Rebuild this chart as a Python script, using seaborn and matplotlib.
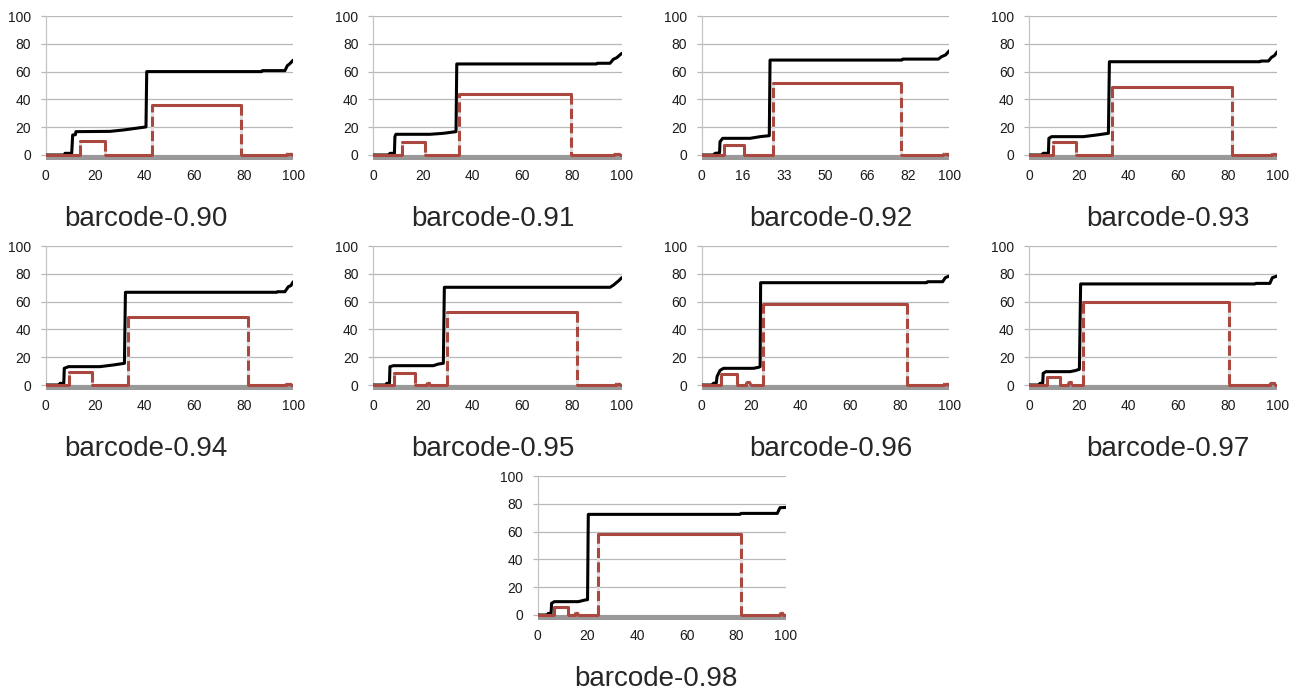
import numpy as np
import pandas as pd
import matplotlib
matplotlib.use("Agg")
import matplotlib.pyplot as plt
import seaborn as sns

# ---------------- data ----------------
titles = ["barcode-0.90", "barcode-0.91", "barcode-0.92", "barcode-0.93",
          "barcode-0.94", "barcode-0.95", "barcode-0.96", "barcode-0.97",
          "barcode-0.98"]

yticks = [0, 20, 40, 60, 80, 100]
xtick_labels_default = ["0", "20", "40", "60", "80", "100"]
xtick_labels_092 = ["0", "16", "33", "50", "66", "82", "100"]

black_x_090 = [0, 7.5, 7.8, 10.5, 10.9, 12.0, 12.2, 26.0, 31.4, 40.5, 40.8, 87.2, 87.5, 96.6, 97.6, 98.5, 100]
black_y_090 = [0, 0, 1.2, 1.2, 14.4, 14.6, 16.8, 17.0, 18.0, 20.2, 60.0, 60.0, 60.7, 60.7, 64.3, 65.5, 68.3]
red_x_090 = [0, 13.9, 13.9, 24.0, 24.0, 43.0, 43.0, 78.7, 78.7, 97.3, 97.8, 99.0, 99.5, 100]
red_y_090 = [0, 0, 10.3, 10.3, 0, 0, 35.7, 35.7, 0, 0, 1.0, 1.0, 0, 0]

black_x_091 = [0, 6.5, 6.7, 8.5, 8.7, 9.1, 22.8, 28.2, 33.3, 33.6, 89.9, 90.2, 95.3, 96.6, 98.0, 100]
black_y_091 = [0, 0, 1.2, 1.2, 13.2, 14.9, 14.9, 15.6, 16.8, 65.5, 65.5, 66.0, 66.0, 68.8, 70.0, 73.1]
red_x_091 = [0, 11.4, 11.4, 20.8, 20.8, 34.6, 34.6, 79.7, 79.7, 97.0, 97.5, 98.8, 99.3, 100]
red_y_091 = [0, 0, 9.6, 9.6, 0, 0, 43.6, 43.6, 0, 0, 0.8, 0.8, 0, 0]

black_x_092 = [0, 5.2, 5.4, 7.2, 7.4, 8.5, 19.5, 23.6, 27.3, 27.6, 80.8, 81.2, 95.6, 96.8, 98.5, 100]
black_y_092 = [0, 0, 1.2, 1.5, 9.6, 12.0, 12.0, 13.2, 13.9, 68.3, 68.3, 69.0, 69.0, 70.7, 72.0, 75.0]
red_x_092 = [0, 9.2, 9.2, 17.2, 17.2, 28.9, 28.9, 80.3, 80.3, 97.6, 98.1, 99.2, 99.6, 100]
red_y_092 = [0, 0, 7.2, 7.2, 0, 0, 52.0, 52.0, 0, 0, 1.0, 1.0, 0, 0]

black_x_093 = [0, 5.4, 5.6, 7.7, 7.9, 9.0, 21.8, 27.2, 31.9, 32.3, 93.0, 93.3, 96.4, 97.7, 98.8, 100]
black_y_093 = [0, 0, 1.2, 1.2, 12.0, 13.2, 13.2, 14.4, 15.6, 67.1, 67.1, 67.6, 67.6, 70.3, 71.5, 74.3]
red_x_093 = [0, 9.7, 9.7, 18.8, 18.8, 33.2, 33.2, 81.6, 81.6, 97.8, 98.2, 99.2, 99.6, 100]
red_y_093 = [0, 0, 9.6, 9.6, 0, 0, 48.7, 48.7, 0, 0, 0.8, 0.8, 0, 0]

black_x_094 = [0, 5.6, 5.8, 7.3, 7.5, 9.2, 21.9, 27.3, 31.8, 32.2, 93.3, 93.6, 96.6, 98.0, 99.0, 100]
black_y_094 = [0, 0, 1.2, 1.2, 12.0, 13.2, 13.2, 14.4, 15.6, 66.7, 66.7, 67.1, 67.1, 70.7, 71.5, 74.3]
red_x_094 = [0, 9.6, 9.6, 18.7, 18.7, 33.4, 33.4, 81.8, 81.8, 97.0, 97.5, 98.8, 99.2, 100]
red_y_094 = [0, 0, 9.6, 9.6, 0, 0, 48.7, 48.7, 0, 0, 0.8, 0.8, 0, 0]

black_x_095 = [0, 5.2, 5.4, 6.5, 6.7, 8.1, 24.2, 26.2, 28.2, 28.6, 95.3, 96.8, 97.5, 98.8, 100]
black_y_095 = [0, 0, 1.2, 1.2, 13.2, 13.9, 13.9, 15.1, 15.6, 70.3, 70.3, 72.0, 73.1, 75.0, 77.2]
red_x_095 = [0, 8.5, 8.5, 16.8, 16.8, 21.5, 21.9, 22.4, 22.8, 29.5, 29.5, 81.9, 81.9, 97.6, 98.0, 99.0, 99.4, 100]
red_y_095 = [0, 0, 8.4, 8.4, 0, 0, 1.5, 1.5, 0, 0, 52.8, 52.8, 0, 0, 1.0, 1.0, 0, 0]

black_x_096 = [0, 4.5, 4.7, 5.9, 6.2, 7.4, 8.8, 20.9, 22.9, 23.6, 23.8, 90.8, 91.2, 97.3, 98.4, 100]
black_y_096 = [0, 0, 1.2, 1.5, 6.0, 10.5, 12.0, 12.0, 12.7, 13.2, 73.6, 73.6, 74.3, 74.3, 77.2, 78.4]
red_x_096 = [0, 7.8, 7.8, 14.4, 14.4, 17.9, 18.4, 19.3, 19.8, 24.6, 24.6, 82.8, 82.8, 97.8, 98.2, 99.2, 99.6, 100]
red_y_096 = [0, 0, 7.7, 7.7, 0, 0, 2.0, 2.0, 0, 0, 58.3, 58.3, 0, 0, 1.0, 1.0, 0, 0]

black_x_097 = [0, 4.1, 4.3, 5.4, 5.6, 6.7, 16.4, 18.4, 20.2, 20.7, 91.0, 91.4, 97.0, 98.0, 100]
black_y_097 = [0, 0, 1.2, 1.2, 8.4, 9.6, 9.6, 10.3, 11.3, 72.7, 72.7, 73.1, 73.1, 77.2, 78.4]
red_x_097 = [0, 7.0, 7.0, 12.4, 12.4, 15.7, 16.1, 16.7, 17.1, 21.5, 21.5, 80.6, 80.6, 97.0, 97.6, 98.6, 99.2, 100]
red_y_097 = [0, 0, 6.0, 6.0, 0, 0, 2.0, 2.0, 0, 0, 60.0, 60.0, 0, 0, 1.5, 1.5, 0, 0]

black_x_098 = [0, 4.1, 4.3, 5.4, 5.6, 6.7, 16.4, 19.1, 20.1, 20.4, 81.6, 82.0, 96.6, 97.7, 100]
black_y_098 = [0, 0, 1.2, 1.2, 8.4, 9.6, 9.6, 10.8, 11.0, 72.4, 72.4, 73.1, 73.1, 77.2, 77.4]
red_x_098 = [0, 6.7, 6.7, 12.4, 12.4, 15.0, 15.4, 16.0, 16.4, 24.5, 24.5, 81.9, 81.9, 97.7, 98.1, 98.7, 99.1, 100]
red_y_098 = [0, 0, 6.0, 6.0, 0, 0, 1.5, 1.5, 0, 0, 58.3, 58.3, 0, 0, 1.5, 1.5, 0, 0]

black_series = [(black_x_090, black_y_090), (black_x_091, black_y_091), (black_x_092, black_y_092),
                (black_x_093, black_y_093), (black_x_094, black_y_094), (black_x_095, black_y_095),
                (black_x_096, black_y_096), (black_x_097, black_y_097), (black_x_098, black_y_098)]
red_series = [(red_x_090, red_y_090), (red_x_091, red_y_091), (red_x_092, red_y_092),
              (red_x_093, red_y_093), (red_x_094, red_y_094), (red_x_095, red_y_095),
              (red_x_096, red_y_096), (red_x_097, red_y_097), (red_x_098, red_y_098)]

# ---------------- style ----------------
sns.set_theme(style="white")
plt.rcParams["font.family"] = ["Liberation Sans", "DejaVu Sans"]

W, H = 1301, 693
fig = plt.figure(figsize=(W / 100, H / 100), dpi=100)
fig.patch.set_facecolor("white")

col_lr = [(45.7, 293.3), (373.3, 621.7), (701.7, 949.3), (1029.3, 1277.3)]
row_top = [16, 246]
boxes = []
for r in range(2):
    for c in range(4):
        boxes.append((col_lr[c][0], row_top[r], col_lr[c][1]))
boxes.append((537.7, 476, 785.7))
title_pos = [(146, 226.5), (493, 226.5), (831, 226.5), (1168, 226.5),
             (146, 456.5), (493, 456.5), (831, 456.5), (1168, 456.5),
             (656, 686.5)]

YMIN = -3.9
PXU = 1.39
RED = "#aa473f"
BLACK = "#000000"


def split_segments(xs, ys):
    """Split a step path into flat (horizontal) and non-flat (rising/falling) pieces."""
    flat, steep = [], []
    for k in range(len(xs) - 1):
        target = flat if ys[k] == ys[k + 1] else steep
        sid = len(target) // 2
        target.append((sid, xs[k], ys[k]))
        target.append((sid, xs[k + 1], ys[k + 1]))
    return (pd.DataFrame(flat, columns=["seg", "x", "y"]),
            pd.DataFrame(steep, columns=["seg", "x", "y"]))


for i, (l, t, r) in enumerate(boxes):
    b = t + (100 - YMIN) * PXU
    ax = fig.add_axes([l / W, 1 - b / H, (r - l) / W, (b - t) / H])
    ax.set_xlim(0, 100)
    ax.set_ylim(YMIN, 100)
    ax.set_facecolor("white")
    ax.set_axisbelow(True)

    ax.axhspan(YMIN, 0, color="#999999", lw=0, zorder=1.5)

    bx, by = black_series[i]
    sns.lineplot(x=bx, y=by, ax=ax, sort=False, estimator=None, color=BLACK,
                 lw=2.2, zorder=3)

    rx, ry = red_series[i]
    flat_df, steep_df = split_segments(rx, ry)
    sns.lineplot(data=steep_df, x="x", y="y", units="seg", estimator=None, sort=False,
                 ax=ax, color="#dedede", lw=2.2, zorder=4)
    n1 = len(ax.lines)
    sns.lineplot(data=steep_df, x="x", y="y", units="seg", estimator=None, sort=False,
                 ax=ax, color=RED, lw=2.2, zorder=5)
    for ln in ax.lines[n1:]:
        ln.set_dashes((3.3, 1.4))
        ln.set_dash_capstyle("butt")
    sns.lineplot(data=flat_df, x="x", y="y", units="seg", estimator=None, sort=False,
                 ax=ax, color=RED, lw=2.2, zorder=6)

    ax.set_yticks(yticks)
    ax.set_yticklabels([str(v) for v in yticks])
    if i == 2:
        ax.set_xticks(np.linspace(0, 100, len(xtick_labels_092)))
        ax.set_xticklabels(xtick_labels_092)
    else:
        ax.set_xticks(np.linspace(0, 100, len(xtick_labels_default)))
        ax.set_xticklabels(xtick_labels_default)
    ax.set_xlabel("")
    ax.set_ylabel("")

    ax.yaxis.grid(True, color="#b8b8b8", lw=0.9)
    ax.xaxis.grid(False)
    for s in ["top", "right", "bottom"]:
        ax.spines[s].set_visible(False)
    ax.spines["left"].set_color("#c4c4c4")
    ax.spines["left"].set_linewidth(0.9)
    ax.spines["left"].set_bounds(0, 100)

    ax.tick_params(axis="y", left=True, length=3.6, width=0.9, color="#b8b8b8",
                   pad=7, labelsize=10, labelcolor="#1a1a1a")
    ax.tick_params(axis="x", bottom=False, length=0, pad=6.5, labelsize=10,
                   labelcolor="#1a1a1a")

    cx, cy = title_pos[i]
    fig.text(cx / W, 1 - cy / H, titles[i], ha="center", va="baseline",
             fontsize=20, color="#262626")

fig.savefig("out.png", dpi=100, facecolor="white")
